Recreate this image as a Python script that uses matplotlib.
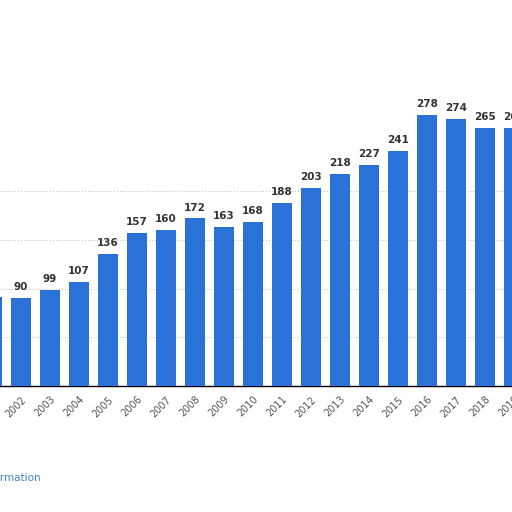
import matplotlib
matplotlib.use("Agg")
import matplotlib.pyplot as plt

years = list(range(2001, 2020))
values = [91, 90, 99, 107, 136, 157, 160, 172, 163, 168, 188, 203,
          218, 227, 241, 278, 274, 265, 265]
labels = [str(y) for y in years]

fig = plt.figure(figsize=(5.12, 5.12), dpi=100)
ax = fig.add_axes([0, 0.246, 1, 0.571])

ax.bar(years, values, width=0.69, color="#2a72d8", zorder=3)
for x, v in zip(years, values):
    ax.text(x, v + 6, str(v), ha="center", va="bottom", fontsize=7.5,
            fontweight="bold", color="#333333")

ax.set_xticks(years)
ax.set_xticklabels(labels, rotation=45, ha="right", rotation_mode="anchor",
                   fontsize=7, color="#555555")
ax.tick_params(axis="x", length=0, pad=6)
# set_xticks widens the view, so limits go after it
ax.set_xlim(2001.276, 2018.93)
ax.set_ylim(0, 300)
ax.set_yticks([50, 100, 150, 200])
ax.yaxis.grid(True, linestyle=(0, (1, 2)), color="#bbbbbb", linewidth=0.7, zorder=0)
ax.tick_params(axis="y", left=False, labelleft=False)

# the last label sits past the view limit, matplotlib would drop it
ax.annotate(labels[-1], xy=(years[-1], 0), xytext=(0, -6),
            textcoords="offset points", ha="right", va="top", rotation=45,
            rotation_mode="anchor", fontsize=7, color="#555555",
            annotation_clip=False)

for side in ["top", "left", "right"]:
    ax.spines[side].set_visible(False)
ax.spines["bottom"].set_color("black")
ax.spines["bottom"].set_linewidth(1.0)

fig.text(41 / 512, 1 - 478 / 512, "Additional Information", ha="right",
         va="center", fontsize=7.5, color="#3a87c8")

fig.savefig("out.png", dpi=100)
